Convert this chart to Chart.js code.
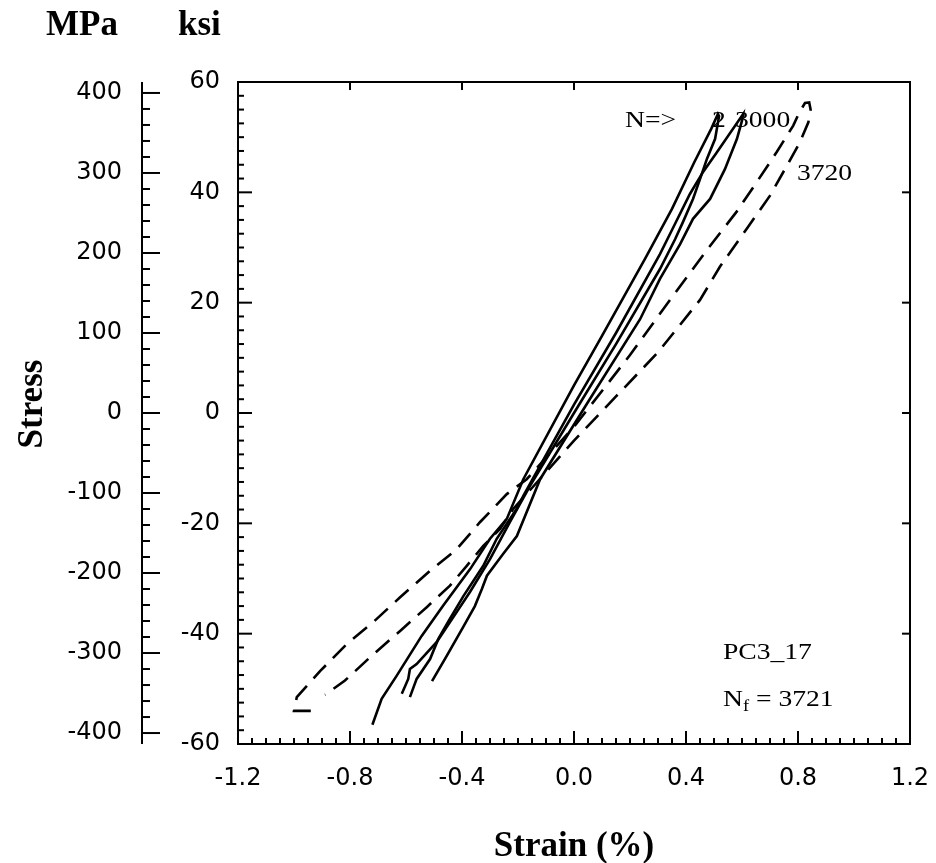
<!DOCTYPE html>
<html>
<head>
<meta charset="utf-8">
<script src="https://cdn.jsdelivr.net/npm/chart.js@4.4.1/dist/chart.umd.min.js"></script>
<style>
  html, body { margin: 0; padding: 0; background: #fff; }
  #contenedor { width: 936px; height: 863px; position: relative; }
</style>
</head>
<body>
<div id="contenedor"><canvas id="myChart"></canvas></div>
<script>
// Ejes
const strainTicks = [-1.2, -0.8, -0.4, 0.0, 0.4, 0.8, 1.2];
const ksiTicks = [-60, -40, -20, 0, 20, 40, 60];
const mpaTicks = [-400, -300, -200, -100, 0, 100, 200, 300, 400];
const KSI_A_MPA = 6.895;

// Ciclo N = 2 (deformacion %, esfuerzo ksi)
const ciclo2Strain = [-0.72, -0.687, -0.633, -0.544, -0.467, -0.371, -0.30, -0.24, -0.181, 0.0, 0.1, 0.254, 0.35, 0.43, 0.49, 0.514,
  0.518, 0.504, 0.475, 0.45, 0.425, 0.389, 0.361, 0.307, 0.15, 0.0, -0.157, -0.229, -0.30, -0.371, -0.419, -0.49, -0.562, -0.586, -0.592, -0.615];
const ciclo2Stress = [-56.5, -51.8, -47.6, -40.4, -34.9, -28.3, -22.8, -19.2, -12, 5, 14, 28, 37, 45.5, 51.5, 54.2,
  53.8, 49.7, 46.1, 42.4, 38.8, 34.6, 31.5, 26.1, 12.5, 0, -13.2, -19.8, -26.5, -32.4, -36.1, -41.5, -45.5, -46.4, -48.2, -50.9];

// Ciclo N = 3000
const ciclo3000Strain = [-0.586, -0.562, -0.514, -0.485, -0.443, -0.395, -0.324, -0.276, -0.205, -0.181, 0.0, 0.15, 0.307, 0.361, 0.414, 0.461, 0.511, 0.604,
  0.60, 0.582, 0.539, 0.486, 0.425, 0.379, 0.307, 0.236, 0.05, -0.121, -0.204, -0.254, -0.311, -0.329, -0.354, -0.396, -0.454, -0.507];
const ciclo3000Stress = [-51.5, -48.2, -44.6, -41, -37.3, -33.2, -27.7, -22.8, -17.4, -15, 1.5, 14.5, 28.8, 34.3, 39.7, 43.7, 47.3, 54.2,
  53, 49.7, 44.2, 38.8, 35.2, 30.6, 24.3, 17, 2, -12, -22.3, -25.6, -29.5, -31.9, -35, -38.8, -44, -48.6];

// Ciclo N = 3720 (discontinuo)
const ciclo3720Strain = [-0.94, -1.0, -0.99, -0.907, -0.812, -0.717, -0.621, -0.514, -0.419, -0.336, -0.24, -0.169, 0.0, 0.2, 0.35, 0.474, 0.581, 0.652, 0.724, 0.783, 0.805, 0.825, 0.84,
  0.845, 0.837, 0.807, 0.76, 0.70, 0.617, 0.521, 0.45, 0.30, 0.15, 0.0, -0.217, -0.264, -0.324, -0.383, -0.443, -0.526, -0.621, -0.729, -0.818, -0.889];
const ciclo3720Stress = [-54, -54, -51.5, -46.8, -41.9, -37.9, -33.4, -28.6, -24.7, -19.8, -14.7, -12, -2.5, 10.5, 21, 29.5, 36.5, 41.8, 47.3, 52.1, 54.5, 56.2, 56.3,
  55, 52.7, 49.1, 44.8, 39.4, 33.4, 26.5, 20.5, 11, 3, -5, -17.4, -21, -24.1, -27.7, -31.3, -35.2, -39.5, -44.3, -48.5, -51.1];

function puntos(xs, ys) {
    return xs.map((x, i) => ({ x: x, y: ys[i] }));
}

const fuenteTicks = { family: '"DejaVu Sans", sans-serif', size: 24 };

// Marco, marcas de los ejes, eje MPa y textos
const marcoPlugin = {
    id: 'marco',
    afterDraw(chart) {
        const ctx = chart.ctx;
        const a = chart.chartArea;
        const sx = chart.scales.x;
        const sy = chart.scales.y;
        const sm = chart.scales.mpa;
        ctx.save();
        ctx.strokeStyle = '#000';
        ctx.fillStyle = '#000';
        ctx.lineWidth = 2;
        ctx.lineCap = 'butt';

        function linea(x1, y1, x2, y2) {
            ctx.beginPath();
            ctx.moveTo(x1, y1);
            ctx.lineTo(x2, y2);
            ctx.stroke();
        }

        ctx.strokeRect(a.left, a.top, a.right - a.left, a.bottom - a.top);

        // eje ksi: menores cada 2.5
        for (let i = 0; i <= 48; i++) {
            const v = -60 + i * 2.5;
            const y = sy.getPixelForValue(v);
            const mayor = i % 8 === 0;
            linea(a.left, y, a.left + (mayor ? 14 : 6), y);
            if (mayor) linea(a.right, y, a.right - 8, y);
        }

        // eje deformacion: menores cada 0.05
        for (let i = 0; i <= 48; i++) {
            const v = -1.2 + i * 0.05;
            const x = sx.getPixelForValue(v);
            const mayor = i % 8 === 0;
            linea(x, a.bottom, x, a.bottom - (mayor ? 13 : 6));
            if (mayor) linea(x, a.top, x, a.top + 8);
        }

        // eje MPa
        const xm = sm.right - 18;
        linea(xm, a.top, xm, a.bottom);
        for (let i = 0; i <= 40; i++) {
            const v = -400 + i * 20;
            const y = sm.getPixelForValue(v);
            linea(xm, y, xm + (i % 5 === 0 ? 18 : 8), y);
        }

        // titulos
        ctx.font = 'bold 35px "Liberation Serif", serif';
        ctx.textBaseline = 'alphabetic';
        ctx.textAlign = 'left';
        ctx.fillText('MPa', 46, 35);
        ctx.fillText('ksi', 178, 35);
        ctx.textAlign = 'center';
        ctx.fillText('Strain (%)', (a.left + a.right) / 2, 856);
        ctx.save();
        ctx.translate(42, 404);
        ctx.rotate(-Math.PI / 2);
        ctx.fillText('Stress', 0, 0);
        ctx.restore();

        // anotaciones
        ctx.textAlign = 'left';
        const fuenteNota = '24px "Liberation Serif", serif';
        function texto(t, v1, v2) {
            ctx.save();
            ctx.translate(sx.getPixelForValue(v1), sy.getPixelForValue(v2));
            ctx.scale(1.15, 1);
            ctx.font = fuenteNota;
            ctx.fillText(t, 0, 0);
            ctx.restore();
        }
        texto('N=>', 0.182, 51.8);
        texto('2', 0.493, 51.8);
        texto('3000', 0.575, 51.8);
        texto('3720', 0.796, 42.2);
        texto('PC3_17', 0.532, -44.6);

        ctx.save();
        ctx.translate(sx.getPixelForValue(0.532), sy.getPixelForValue(-53.1));
        ctx.scale(1.15, 1);
        ctx.font = fuenteNota;
        ctx.fillText('N', 0, 0);
        const wN = ctx.measureText('N').width;
        ctx.font = '16px "Liberation Serif", serif';
        ctx.fillText('f', wN, 5);
        const wf = ctx.measureText('f').width;
        ctx.font = fuenteNota;
        ctx.fillText(' = 3721', wN + wf, 0);
        ctx.restore();

        ctx.restore();
    }
};

const estiloLinea = { showLine: true, borderColor: '#000', borderWidth: 2.6, pointRadius: 0, fill: false, tension: 0 };

const canvas = document.getElementById('myChart');
new Chart(canvas.getContext('2d'), {
    type: 'scatter',
    data: {
        datasets: [
            Object.assign({ label: 'N = 2', data: puntos(ciclo2Strain, ciclo2Stress) }, estiloLinea),
            Object.assign({ label: 'N = 3000', data: puntos(ciclo3000Strain, ciclo3000Stress) }, estiloLinea),
            Object.assign({ label: 'N = 3720', data: puntos(ciclo3720Strain, ciclo3720Stress), borderDash: [18, 10] }, estiloLinea)
        ]
    },
    options: {
        responsive: true,
        maintainAspectRatio: false,
        animation: false,
        layout: { padding: { top: 82, right: 26, left: 0, bottom: 0 } },
        plugins: { legend: { display: false }, tooltip: { enabled: false } },
        scales: {
            x: {
                type: 'linear', position: 'bottom', min: -1.2, max: 1.2,
                afterBuildTicks: s => { s.ticks = strainTicks.map(v => ({ value: v })); },
                afterFit: s => { s.height = 119; s.paddingLeft = 0; s.paddingRight = 0; },
                ticks: { padding: 20, font: fuenteTicks, color: '#000', maxRotation: 0, autoSkip: false,
                    callback: v => Number(v).toFixed(1) },
                grid: { display: false, drawTicks: false },
                border: { display: false }
            },
            y: {
                type: 'linear', position: 'left', weight: 0, min: -60, max: 60,
                afterBuildTicks: s => { s.ticks = ksiTicks.map(v => ({ value: v })); },
                afterFit: s => { s.width = 78; s.paddingTop = 0; s.paddingBottom = 0; },
                ticks: { padding: 18, font: fuenteTicks, color: '#000', autoSkip: false },
                grid: { display: false, drawTicks: false },
                border: { display: false }
            },
            mpa: {
                type: 'linear', position: 'left', weight: 1, min: -60 * KSI_A_MPA, max: 60 * KSI_A_MPA,
                afterBuildTicks: s => { s.ticks = mpaTicks.map(v => ({ value: v })); },
                afterFit: s => { s.width = 160; s.paddingTop = 0; s.paddingBottom = 0; },
                ticks: { padding: 38, font: fuenteTicks, color: '#000', autoSkip: false },
                grid: { display: false, drawTicks: false },
                border: { display: false }
            }
        }
    },
    plugins: [marcoPlugin]
});
</script>
</body>
</html>
